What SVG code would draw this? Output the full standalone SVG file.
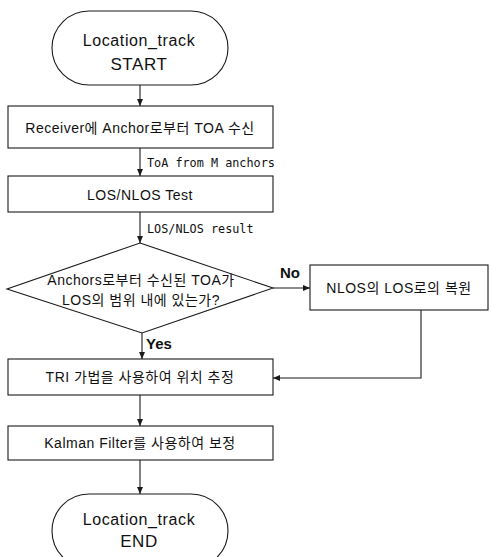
<svg xmlns="http://www.w3.org/2000/svg" width="491" height="557" viewBox="0 0 491 557">
<style>
.shape{fill:#fff;stroke:#1a1a1a;stroke-width:1.1}
.line{fill:none;stroke:#1a1a1a;stroke-width:1.1}
.t{font-family:"Liberation Sans","Noto Sans CJK KR",sans-serif;font-size:14px;letter-spacing:0.5px;fill:#111;text-anchor:middle;dominant-baseline:central}
.tt{font-family:"Liberation Sans","Noto Sans CJK KR",sans-serif;font-size:16px;letter-spacing:0.6px;fill:#111;text-anchor:middle;dominant-baseline:central}
.tb{font-family:"Liberation Sans",sans-serif;font-size:15px;font-weight:bold;fill:#111;dominant-baseline:central}
.m{font-family:"DejaVu Sans Mono","Liberation Mono",monospace;font-size:11.8px;fill:#111;dominant-baseline:central}
</style>
<defs>
<marker id="ah" markerWidth="8" markerHeight="8" refX="7" refY="4" orient="auto" markerUnits="userSpaceOnUse">
<path d="M0,1 L7,4 L0,7 Z" fill="#1a1a1a"/>
</marker>
</defs>
<g id="connectors">
<line class="line" x1="140" y1="85" x2="140" y2="106" marker-end="url(#ah)"/>
<line class="line" x1="140" y1="148" x2="140" y2="176" marker-end="url(#ah)"/>
<text class="m" x="147" y="163">ToA from M anchors</text>
<line class="line" x1="140" y1="212" x2="140" y2="243" marker-end="url(#ah)"/>
<text class="m" x="147" y="229">LOS/NLOS result</text>
<line class="line" x1="273" y1="288" x2="310" y2="288" marker-end="url(#ah)"/>
<text class="tb" x="280" y="272">No</text>
<line class="line" x1="142" y1="333" x2="142" y2="359" marker-end="url(#ah)"/>
<text class="tb" x="146" y="343">Yes</text>
<polyline class="line" points="421,310 421,378 273,378" marker-end="url(#ah)"/>
<line class="line" x1="140" y1="395" x2="140" y2="426" marker-end="url(#ah)"/>
<line class="line" x1="140" y1="460" x2="140" y2="494" marker-end="url(#ah)"/>
</g>
<g id="start">
<rect class="shape" x="52" y="11" width="176" height="74" rx="37" ry="37"/>
<text class="tt" x="139" y="40">Location_track</text>
<text class="tt" x="139" y="64" style="font-size:17px">START</text>
</g>
<g id="receive">
<rect class="shape" x="8" y="106" width="265" height="42"/>
<text class="t" x="140" y="128">Receiver에 Anchor로부터 TOA 수신</text>
</g>
<g id="test">
<rect class="shape" x="8" y="176" width="265" height="36"/>
<text class="t" x="140" y="195">LOS/NLOS Test</text>
</g>
<g id="decision">
<polygon class="shape" points="140,243 273,288 142,333 7,289"/>
<text class="t" x="141" y="280">Anchors로부터 수신된 TOA가</text>
<text class="t" x="141" y="300">LOS의 범위 내에 있는가?</text>
</g>
<g id="restore">
<rect class="shape" x="310" y="265" width="178" height="45"/>
<text class="t" x="399" y="288">NLOS의 LOS로의 복원</text>
</g>
<g id="tri">
<rect class="shape" x="8" y="359" width="265" height="36"/>
<text class="t" x="140" y="377">TRI 가법을 사용하여 위치 추정</text>
</g>
<g id="kalman">
<rect class="shape" x="8" y="426" width="265" height="34"/>
<text class="t" x="140" y="443">Kalman Filter를 사용하여 보정</text>
</g>
<g id="end">
<rect class="shape" x="52" y="494" width="176" height="74" rx="37" ry="37"/>
<text class="tt" x="139" y="519">Location_track</text>
<text class="tt" x="139" y="541" style="font-size:17px">END</text>
</g>
</svg>
